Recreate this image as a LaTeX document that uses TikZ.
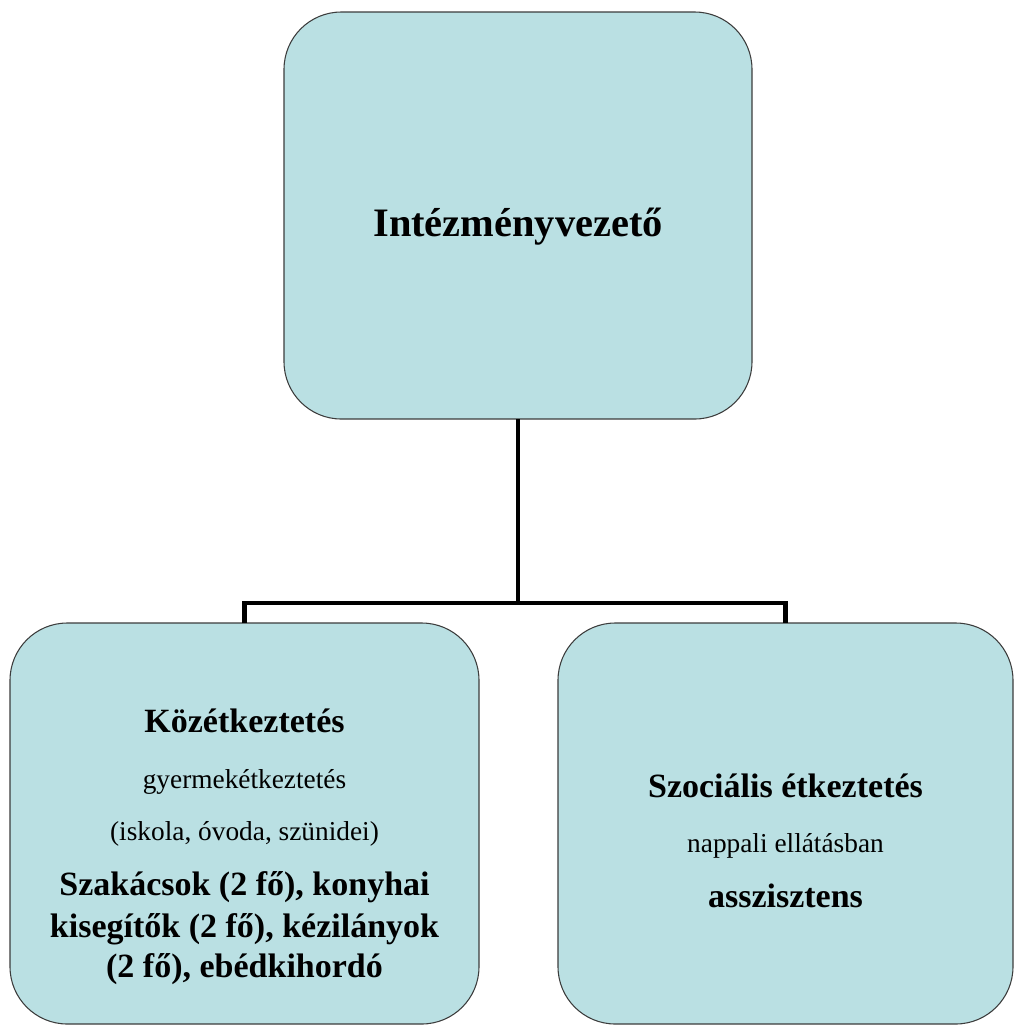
\documentclass[tikz,border=0pt]{standalone}
\usepackage{fontspec}
\setmainfont{Liberation Serif}
\definecolor{boxfill}{RGB}{186,224,227}
\definecolor{boxline}{RGB}{60,60,60}
\begin{document}
\begin{tikzpicture}[x=0.75pt,y=-0.75pt,
  box/.style={draw=boxline, fill=boxfill, line width=0.8pt, rounded corners=43pt, inner sep=0pt, outer sep=0pt},
  conn/.style={draw=black, line width=3.3pt, line join=miter},
  head/.style={anchor=base, font=\fontsize{25.5}{30}\selectfont\bfseries, inner sep=0pt},
  sub/.style={anchor=base, font=\fontsize{20.5}{24}\selectfont, inner sep=0pt},
  ttl/.style={anchor=base, font=\fontsize{30.3}{36}\selectfont\bfseries, inner sep=0pt}]
\useasboundingbox (0,0) rectangle (1015,1026);

\node[box, minimum width=351pt, minimum height=305.25pt] (top) at (518,215.5) {};
\node[box, minimum width=351.75pt, minimum height=300.75pt] (left) at (244.5,823.5) {};
\node[box, minimum width=341.25pt, minimum height=300.75pt] (right) at (785.5,823.5) {};

\coordinate (bus) at (518,603);
\draw[conn] (top.south) -- (bus);
\draw[conn] (left.north) |- (bus) -| (right.north);

\node[ttl] (t1) at (518,236) {Intézményvezető};

\node[head] (l1) at (244.5,732) {Közétkeztetés};
\node[sub] (l2) at (244.5,788) {gyermekétkeztetés};
\node[sub] (l3) at (244.5,840) {(iskola, óvoda, szünidei)};
\node[head] (l4) at (244.5,895) {Szakácsok (2 fő), konyhai};
\node[head] (l5) at (244.5,937) {kisegítők (2 fő), kézilányok};
\node[head] (l6) at (244.5,977) {(2 fő), ebédkihordó};

\node[head] (r1) at (785.5,797) {Szociális étkeztetés};
\node[sub] (r2) at (785.5,852) {nappali ellátásban};
\node[head] (r3) at (785.5,907) {asszisztens};
\end{tikzpicture}
\end{document}
